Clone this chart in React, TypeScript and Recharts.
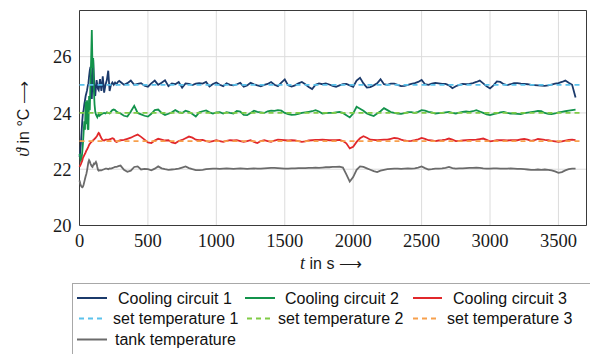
import { LineChart, Line, XAxis, YAxis, CartesianGrid, ReferenceArea } from 'recharts';

/**
 * Cooling circuit temperatures vs. set points and tank temperature.
 * Sampled every 5 s during start-up, then coarser once it settles.
 */

const times = [
  0, 5, 10, 15, 20, 25, 30, 35, 40, 45, 50, 55, 60, 65, 70, 75, 80, 85, 90, 95,
  100, 105, 110, 115, 120, 125, 130, 135, 140, 145, 150,
  160, 170, 180, 190, 200, 210, 220, 230, 240, 250, 260, 270, 280, 290, 300,
  325, 350, 375, 400, 425, 450, 475, 500, 525, 550,
  575, 600, 625, 650, 675, 700, 725, 750, 775, 800,
  825, 850, 875, 900, 925, 950, 975, 1000, 1025, 1050,
  1075, 1100, 1125, 1150, 1175, 1200, 1225, 1250, 1275, 1300,
  1325, 1350, 1375, 1400, 1425, 1450, 1475, 1500, 1525, 1550,
  1575, 1600, 1625, 1650, 1675, 1700, 1725, 1750, 1775, 1800,
  1825, 1850, 1875, 1900, 1925, 1950, 1975, 2000, 2025, 2050,
  2075, 2100, 2125, 2150, 2175, 2200, 2225, 2250, 2275, 2300,
  2325, 2350, 2375, 2400, 2425, 2450, 2475, 2500, 2525, 2550,
  2575, 2600, 2625, 2650, 2675, 2700, 2725, 2750, 2775, 2800,
  2825, 2850, 2875, 2900, 2925, 2950, 2975, 3000, 3025, 3050,
  3075, 3100, 3125, 3150, 3175, 3200, 3225, 3250, 3275, 3300,
  3325, 3350, 3375, 3400, 3425, 3450, 3475, 3500, 3525, 3550,
  3575, 3600, 3625,
];

const circuit1 = [
  22.44, 22.6, 22.9, 23.3, 23.7, 24.0, 24.1, 24.3, 24.45, 24.6, 24.7, 24.8, 24.95, 25.05, 25.3, 25.5,
  25.64, 25.1, 24.5, 25.2, 25.88, 25.3, 24.8, 24.6, 24.9, 25.17, 25.0, 24.85, 24.81, 25.0, 25.2,
  24.78, 25.3, 24.72, 25.0, 25.17, 25.5, 24.78, 25.0, 25.08, 25.0, 25.08, 25.02, 25.1, 25.14, 25.1,
  25.0, 25.06, 25.15, 25.0, 25.03, 25.06, 24.97, 24.93, 25.05, 25.15,
  25.0, 25.07, 25.16, 24.95, 25.05, 25.02, 25.1, 24.9, 25.05, 25.03,
  24.99, 25.04, 25.06, 25.04, 25.1, 24.94, 25.03, 25.08, 25.0, 24.95,
  25.05, 25.0, 24.98, 25.02, 25.07, 24.93, 24.98, 25.07, 25.02, 24.98,
  24.95, 25.0, 25.03, 25.1, 25.0, 24.95, 25.08, 25.19, 24.98, 24.94,
  24.98, 25.05, 25.1, 25.02, 24.92, 24.85, 25.0, 25.05, 25.02, 25.05,
  25.01, 24.96, 24.93, 24.98, 25.02, 25.03, 24.98, 24.93, 25.15, 25.25,
  25.05, 24.9, 24.92, 24.98, 25.05, 25.2, 25.02, 25.0, 25.04, 25.04,
  25.0, 24.95, 24.96, 25.0, 25.03, 25.06, 25.1, 25.17, 25.02, 25.0,
  25.04, 25.07, 25.05, 25.03, 25.03, 24.98, 24.88, 24.95, 25.0, 25.03,
  25.02, 25.03, 25.06, 25.1, 25.15, 25.05, 24.95, 24.87, 24.98, 25.12,
  25.1, 25.02, 24.99, 25.02, 25.06, 25.06, 25.04, 25.03, 25.02, 25.0,
  24.99, 24.98, 24.97, 24.96, 24.98, 25.01, 25.04, 25.06, 25.1, 25.15,
  25.07, 25.0, 24.55,
];

const circuit2 = [
  22.55, 22.45, 22.32, 22.38, 22.6, 22.9, 23.3, 23.7, 23.4, 24.4, 23.6, 24.45, 23.45, 23.4, 24.6, 24.1,
  25.0, 25.9, 26.95, 25.6, 25.95, 24.8, 24.3, 24.05, 23.95, 23.9, 23.85, 23.92, 23.95, 23.9, 23.92,
  23.95, 23.98, 24.0, 23.98, 24.02, 24.0, 23.98, 24.05, 24.1, 24.12, 24.1, 24.05, 24.02, 24.0, 23.98,
  23.9, 23.87, 24.05, 24.25, 24.0, 23.95, 23.9, 23.87, 23.97, 24.1,
  24.12, 24.0, 23.93, 23.97, 24.02, 24.1, 24.03, 24.0, 24.08, 24.04,
  23.96, 23.87, 24.02, 24.06, 24.09, 24.02, 23.98, 24.02, 24.03, 23.98,
  24.03, 24.0, 23.98, 24.07, 24.05, 23.93, 23.92, 24.0, 24.08, 24.04,
  24.02, 24.0, 24.06, 24.08, 24.07, 24.1, 24.08, 24.0, 23.96, 23.93,
  23.94, 23.97, 24.0, 24.02, 24.04, 24.06, 24.1, 24.05, 23.98, 23.99,
  24.0, 24.0, 24.02, 24.04, 24.0, 23.92, 23.84, 23.98, 24.22, 24.15,
  24.08, 23.98, 23.93, 23.89, 23.98, 24.06, 24.17, 24.1, 24.03, 24.0,
  23.98, 23.97, 23.99, 24.03, 24.03, 24.0, 24.04, 24.1, 24.08, 24.04,
  24.02, 23.98, 23.99, 24.0, 24.02, 24.04, 24.0, 23.98, 24.01, 24.04,
  24.05, 24.04, 24.06, 24.1, 24.05, 24.0, 23.95, 23.92, 23.96, 23.98,
  24.02, 24.04, 24.0, 23.98, 23.98, 23.97, 23.96, 23.99, 24.01, 24.03,
  24.05, 24.07, 24.06, 24.0, 23.97, 23.96, 23.98, 24.02, 24.04, 24.06,
  24.08, 24.1, 24.12,
];

const circuit3 = [
  22.08, 22.13, 22.18, 22.24, 22.3, 22.4, 22.45, 22.5, 22.55, 22.6, 22.66, 22.7, 22.75, 22.8, 22.86, 22.9,
  22.93, 22.96, 22.98, 23.0, 23.03, 23.05, 23.08, 23.1, 23.13, 23.16, 23.2, 23.25, 23.29, 23.27, 23.2,
  23.1, 23.03, 23.02, 23.05, 23.05, 23.04, 23.06, 23.08, 23.1, 23.08, 23.0, 22.97, 22.99, 23.02, 23.03,
  23.04, 23.08, 23.12, 23.18, 23.23, 23.15, 23.05, 22.95, 22.93, 23.02,
  23.08, 23.05, 23.02, 23.03, 22.95, 22.92, 23.0, 23.04, 23.1, 23.16,
  23.12, 23.05, 23.03, 23.04, 23.0, 22.97, 23.0, 23.03, 23.0, 22.97,
  23.01, 23.03, 23.02, 23.03, 23.0, 22.97, 23.0, 23.03, 22.97, 22.93,
  23.0, 23.03, 23.0, 22.97, 23.02, 23.05, 23.04, 23.03, 23.02, 23.03,
  23.02, 23.0, 22.97, 22.99, 23.02, 23.03, 23.04, 23.04, 23.05, 23.04,
  23.03, 23.03, 23.03, 23.04, 23.0, 22.92, 22.74, 22.8, 22.97, 23.1,
  23.17, 23.12, 23.05, 23.04, 23.03, 23.04, 23.05, 23.05, 23.08, 23.11,
  23.1, 23.05, 23.02, 23.0, 23.01, 23.03, 23.06, 23.11, 23.08, 23.03,
  23.02, 23.0, 23.02, 23.03, 23.05, 23.09, 23.05, 23.0, 23.01, 23.02,
  23.03, 23.04, 23.04, 23.05, 23.07, 23.09, 23.04, 22.99, 23.01, 23.03,
  23.03, 23.03, 23.02, 23.03, 23.03, 23.03, 23.06, 23.08, 23.05, 23.01,
  23.03, 23.08, 23.06, 23.04, 23.03, 23.01, 22.99, 22.97, 22.99, 23.02,
  23.04, 23.05, 23.03,
];

const tank = [
  21.6, 21.5, 21.42, 21.38, 21.36, 21.38, 21.45, 21.55, 21.65, 21.75, 21.83, 21.95, 22.1, 22.25, 22.32, 22.28,
  22.2, 22.15, 22.1, 22.08, 22.15, 22.2, 22.18, 22.22, 22.26, 22.2, 22.08, 21.98, 21.95, 21.96, 21.97,
  21.96, 21.98, 22.0, 22.02, 22.02, 22.0, 22.03, 22.02, 22.04, 22.06, 22.08, 22.08, 22.1, 22.12, 22.13,
  21.98, 21.91, 21.95, 22.08, 22.1, 21.99, 22.01, 22.0, 21.96, 22.02,
  22.1, 22.03, 22.0, 21.98, 21.99, 22.0, 22.02, 22.06, 22.1, 22.04,
  22.0, 21.97, 21.97, 21.98, 22.0, 22.01, 22.02, 22.02, 22.01, 22.02,
  22.03, 22.02, 22.01, 22.02, 22.03, 22.02, 22.01, 22.02, 22.03, 22.02,
  22.02, 22.03, 22.04, 22.05, 22.05, 22.04, 22.03, 22.02, 22.02, 22.03,
  22.03, 22.04, 22.04, 22.04, 22.05, 22.05, 22.06, 22.05, 22.06, 22.07,
  22.07, 22.08, 22.08, 22.09, 22.06, 21.82, 21.56, 21.72, 21.98, 22.1,
  22.08, 22.03, 21.98, 21.93, 21.9, 21.95, 21.98, 22.0, 22.01, 22.02,
  22.02, 22.01, 22.02, 22.03, 22.02, 22.03, 22.06, 22.1, 22.04, 21.99,
  22.0, 22.02, 22.02, 22.03, 22.05, 22.08, 22.04, 22.02, 22.03, 22.03,
  22.04, 22.05, 22.05, 22.06, 22.05, 22.03, 22.02, 22.02, 22.03, 22.03,
  22.02, 22.02, 22.02, 22.03, 22.02, 22.01, 22.01, 22.0, 21.99, 21.98,
  21.98, 21.99, 21.98, 21.99, 21.98, 21.96, 21.92, 21.87, 21.9, 21.96,
  22.0, 22.02, 22.02,
];

const setTemps = [25, 24, 23];
const setSpan = [0, 3665];

const xTicks = [0, 500, 1000, 1500, 2000, 2500, 3000, 3500];
const yTicks = [20, 22, 24, 26];

const circuitNames = ['Cooling circuit 1', 'Cooling circuit 2', 'Cooling circuit 3'];
const setNames = ['set temperature 1', 'set temperature 2', 'set temperature 3'];
const tankName = 'tank temperature';

const X_MAX = 3705;
const Y_MIN = 20;
const Y_MAX = 27.64;

const CIRCUIT_COLORS = ['#1b3a6b', '#13934b', '#e1282b'];
const SET_COLORS = ['#5bc2ec', '#80cc46', '#f7a04c'];
const TANK_COLOR = '#6b6b6b';
const DASH = '5 4';

const rows = times.map((t, i) => ({
  t,
  c1: circuit1[i],
  c2: circuit2[i],
  c3: circuit3[i],
  tank: tank[i],
}));
const setRows = setTemps.map(v => setSpan.map(t => ({ t, v })));

// legend is laid out like the pgfplots one: 3 columns, 3 rows
const legendEntries = [
  { name: circuitNames[0], color: CIRCUIT_COLORS[0], dashed: false, x1: 77, x2: 107, tx: 118, y: 298 },
  { name: circuitNames[1], color: CIRCUIT_COLORS[1], dashed: false, x1: 245, x2: 275, tx: 285, y: 298 },
  { name: circuitNames[2], color: CIRCUIT_COLORS[2], dashed: false, x1: 413, x2: 442, tx: 453, y: 298 },
  { name: setNames[0], color: SET_COLORS[0], dashed: true, x1: 79, x2: 104, tx: 113, y: 318.5 },
  { name: setNames[1], color: SET_COLORS[1], dashed: true, x1: 247, x2: 273, tx: 278, y: 318.5 },
  { name: setNames[2], color: SET_COLORS[2], dashed: true, x1: 413, x2: 440, tx: 447, y: 318.5 },
  { name: tankName, color: TANK_COLOR, dashed: false, x1: 77, x2: 107, tx: 115, y: 339.5 },
];

const serif = '"Liberation Serif", "Times New Roman", serif';
const sans = '"Liberation Sans", Arial, sans-serif';

// serif tick labels, like the LaTeX original
function XTick(props: any) {
  const { x, y, payload } = props;
  return (
    <text x={x} y={y} dy="0.71em" textAnchor="middle" style={{ fontFamily: serif, fontSize: 18.5 }} fill="#1a1a1a">
      {payload.value}
    </text>
  );
}

function YTick(props: any) {
  const { x, y, payload } = props;
  return (
    <text x={x} y={y} dy="0.36em" textAnchor="end" style={{ fontFamily: serif, fontSize: 18.5 }} fill="#1a1a1a">
      {payload.value}
    </text>
  );
}

export default function App() {
  return (
    <div style={{ position: 'absolute', left: 0, top: 0, width: 590, height: 354, overflow: 'hidden', background: '#fff' }}>
      <div style={{ position: 'absolute', left: 0, top: 0 }}>
        <LineChart width={590} height={290} data={rows} margin={{ top: 10.5, right: 3.5, bottom: 34.5, left: 0.5 }}>
          <CartesianGrid stroke="#dcdcdc" strokeWidth={1} />
          <XAxis
            dataKey="t"
            type="number"
            domain={[0, X_MAX]}
            ticks={xTicks}
            interval={0}
            tickLine={false}
            axisLine={false}
            height={30}
            tick={<XTick />}
          />
          <YAxis
            type="number"
            domain={[Y_MIN, Y_MAX]}
            ticks={yTicks}
            interval={0}
            tickLine={false}
            axisLine={false}
            width={79}
            tick={<YTick />}
          />
          <Line type="linear" dataKey="c1" stroke={CIRCUIT_COLORS[0]} strokeWidth={1.8} dot={false} activeDot={false} isAnimationActive={false} />
          <Line type="linear" dataKey="c2" stroke={CIRCUIT_COLORS[1]} strokeWidth={1.8} dot={false} activeDot={false} isAnimationActive={false} />
          <Line type="linear" dataKey="c3" stroke={CIRCUIT_COLORS[2]} strokeWidth={1.8} dot={false} activeDot={false} isAnimationActive={false} />
          {setRows.map((d, i) => (
            <Line
              key={setNames[i]}
              data={d}
              type="linear"
              dataKey="v"
              stroke={SET_COLORS[i]}
              strokeWidth={1.8}
              strokeDasharray={DASH}
              dot={false}
              activeDot={false}
              isAnimationActive={false}
            />
          ))}
          <Line type="linear" dataKey="tank" stroke={TANK_COLOR} strokeWidth={1.8} dot={false} activeDot={false} isAnimationActive={false} />
          <ReferenceArea x1={0} x2={X_MAX} y1={Y_MIN} y2={Y_MAX} fill="none" stroke="#3a3a3a" strokeWidth={1} ifOverflow="visible" />
        </LineChart>
      </div>
      <svg width={590} height={354} style={{ position: 'absolute', left: 0, top: 0, pointerEvents: 'none' }}>
        <text x={331} y={269} textAnchor="middle" style={{ fontFamily: sans, fontSize: 16 }} fill="#1a1a1a">
          <tspan style={{ fontFamily: serif, fontStyle: 'italic', fontSize: 18 }}>t</tspan>
          <tspan> in s </tspan>
          <tspan>⟶</tspan>
        </text>
        <text transform="translate(29,119) rotate(-90)" textAnchor="middle" style={{ fontFamily: sans, fontSize: 16 }} fill="#1a1a1a">
          <tspan style={{ fontFamily: serif, fontStyle: 'italic', fontSize: 18 }}>ϑ</tspan>
          <tspan> in °C </tspan>
          <tspan>⟶</tspan>
        </text>
        <rect x={72.5} y={283.5} width={600} height={100} fill="#fff" stroke="#a8a8a8" strokeWidth={1} />
        {legendEntries.map(e => (
          <g key={e.name}>
            <line x1={e.x1} x2={e.x2} y1={e.y} y2={e.y} stroke={e.color} strokeWidth={2} strokeDasharray={e.dashed ? DASH : undefined} />
            <text x={e.tx} y={e.y + 5.5} style={{ fontFamily: sans, fontSize: 16 }} fill="#111">{e.name}</text>
          </g>
        ))}
      </svg>
    </div>
  );
}
